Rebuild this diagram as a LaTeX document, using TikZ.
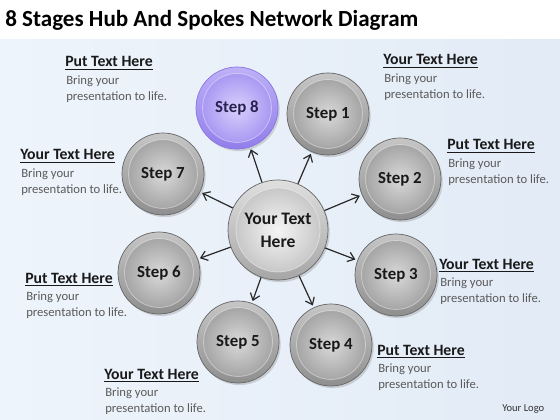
\documentclass[tikz,border=0pt]{standalone}
\usepackage{fontspec}
\setmainfont{Carlito}
\usetikzlibrary{arrows.meta,shadows,positioning}
\definecolor{bgleft}{RGB}{238,244,251}
\definecolor{bgright}{RGB}{226,235,246}
\definecolor{purprim}{RGB}{190,176,248}
\definecolor{purpdark}{RGB}{146,126,234}
\definecolor{purpedge}{RGB}{136,118,225}
\definecolor{purpin}{RGB}{216,208,252}
\definecolor{purpout}{RGB}{160,142,240}
\definecolor{spokegray}{RGB}{40,40,40}
\definecolor{bodygray}{RGB}{90,90,90}
\tikzset{
  ball/.style n args={5}{circle, inner sep=0pt, minimum size=#5, line width=0.5pt,
    top color=#1, bottom color=#2,
    drop shadow={opacity=0.3, shadow xshift=1.2pt, shadow yshift=-1.5pt},
    path picture={
      \shade[inner color=#3, outer color=#4] (path picture bounding box.center) circle (0.42*#5);
      \draw[white, opacity=0.4, line width=0.6pt] (path picture bounding box.center) circle (0.42*#5);
    }},
  stepball/.style={ball={gray!45}{gray!88}{gray!30}{gray!78}{2.05cm}, draw=gray!80!black,
    font=\fontsize{12}{14}\selectfont\bfseries, text=black!90},
  hotball/.style={ball={purprim}{purpdark}{purpin}{purpout}{2.05cm}, draw=purpedge,
    font=\fontsize{12}{14}\selectfont\bfseries, text={rgb,255:red,40;green,34;blue,80}},
  hubball/.style={ball={gray!25}{gray!70}{gray!8}{gray!50}{2.5cm}, draw=gray!80!black,
    font=\fontsize{12.5}{16.3}\selectfont\bfseries, text=black!90, align=center},
  spoke/.style={draw=spokegray, line width=0.85pt, -{Straight Barb[length=4.5pt,width=7pt]},
    shorten >=1.5pt},
  head/.style={inner sep=0pt, font=\fontsize{11.2}{13}\selectfont\bfseries, text=black!90},
  body/.style={inner sep=0pt, align=left, font=\fontsize{9}{10.8}\selectfont, text=bodygray}
}
\begin{document}
\begin{tikzpicture}[x=0.025cm, y=-0.025cm]
    \newcommand{\txtblock}[4]{
        \node[head, anchor=base west] (#1) at (#2,#3) {\underline{#4}};
        \node[body, anchor=north west] (#1b) at (#2+1,#3+9) {Bring your\\presentation to life.};
    }
  \useasboundingbox (0,0) rectangle (560,420);
  \fill[white] (0,0) rectangle (560,420);
  \shade[left color=bgleft, middle color=white, right color=bgright] (0,40) rectangle (560,420);

  \node[anchor=base west, inner sep=0pt, font=\fontsize{16.4}{18}\selectfont\bfseries] (title)
    at (5,27) {8 Stages Hub And Spokes Network Diagram};

  \foreach \n/\x/\y in {1/328/114, 2/400/179, 3/396/275, 4/331/345, 5/238/342, 6/159/273, 7/163/174}
    \node[stepball] (s\n) at (\x,\y) {Step \n};
  \node[hotball] (s8) at (237,108) {Step 8};
  \node[hubball] (hub) at (278,230) {Your Text\\Here};

  \foreach \n in {1,...,8}
    \draw[spoke] (hub) -- (s\n);

  \txtblock{t8}{65}{67}{Put Text Here}
  \txtblock{t1}{383}{65}{Your Text Here}
  \txtblock{t2}{447}{150}{Put Text Here}
  \txtblock{t7}{20}{160}{Your Text Here}
  \txtblock{t3}{439}{269}{Your Text Here}
  \txtblock{t6}{25}{283}{Put Text Here}
  \txtblock{t4}{377}{355}{Put Text Here}
  \txtblock{t5}{104}{379}{Your Text Here}

  \node[anchor=base west, inner sep=0pt, font=\fontsize{7.5}{9}\selectfont, text=black!80] (logo)
    at (502,411) {Your Logo};

\end{tikzpicture}
\end{document}
